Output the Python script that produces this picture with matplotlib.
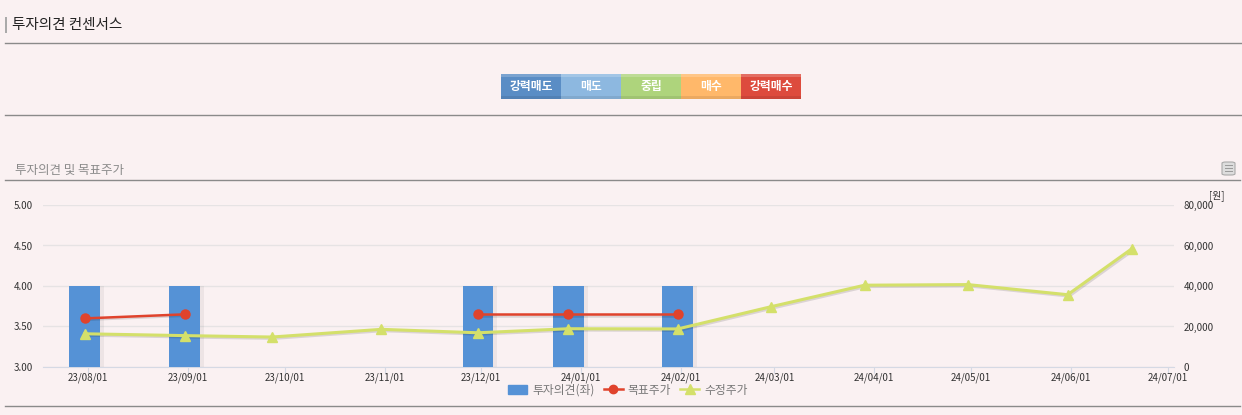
import matplotlib
matplotlib.use("Agg")
import matplotlib.pyplot as plt
import matplotlib.dates as mdates
import matplotlib.patheffects as pe
from matplotlib.lines import Line2D
from matplotlib.patches import Rectangle, FancyBboxPatch
import pandas as pd

plt.rcParams['font.family'] = ['Noto Sans CJK KR', 'DejaVu Sans']

# opinion / target price data
op_dates = pd.to_datetime(['2023-07-31', '2023-08-31', '2023-11-30', '2023-12-28', '2024-01-31'])
opinion = [4.0, 4.0, 4.0, 4.0, 4.0]
target_dates = op_dates
target_price = [24000, 26000, 26000, 26000, 26000]

adj_dates = pd.to_datetime(['2023-07-31', '2023-08-31', '2023-09-27', '2023-10-31', '2023-11-30',
                            '2023-12-28', '2024-01-31', '2024-02-29', '2024-03-29', '2024-04-30',
                            '2024-05-31', '2024-06-20'])
adj_price = [16400, 15500, 14800, 18600, 16900, 18900, 18800, 29800, 40400, 40700, 35700, 58500]

tick_dates = pd.date_range('2023-08-01', '2024-07-01', freq='MS')
scale_labels = ['강력매도', '매도', '중립', '매수', '강력매수']
scale_colors = ['#5a8dc5', '#8db8e0', '#aed47c', '#ffb86a', '#dd4b3d']

W, H = 1242, 415
BG = '#faf1f2'
fig = plt.figure(figsize=(W / 100, H / 100), dpi=100, facecolor=BG)


def fx(x):
    return x / W


def fy(y):
    return 1 - y / H


def hline(y, x0=5, x1=1242, color='#8a8a8a', lw=1.0):
    fig.add_artist(Line2D([fx(x0), fx(x1)], [fy(y), fy(y)], color=color, lw=lw))


# header
fig.add_artist(Rectangle((fx(5), fy(33)), 2.5 / W, 16 / H, color='#aaaaaa', lw=0))
fig.text(fx(12), fy(25), '투자의견 컨센서스', fontsize=10.5, color='#222222', va='center')
hline(43)
hline(115)

# opinion scale bar
for i, (lab, col) in enumerate(zip(scale_labels, scale_colors)):
    x0 = 501 + i * 60
    fig.add_artist(Rectangle((fx(x0), fy(99)), 60 / W, 25 / H, color=col, lw=0))
    fig.add_artist(Rectangle((fx(x0), fy(77)), 60 / W, 3 / H, color='white', alpha=0.2, lw=0))
    fig.add_artist(Rectangle((fx(x0), fy(99)), 60 / W, 3 / H, color='black', alpha=0.08, lw=0))
    fig.text(fx(x0 + 30), fy(86.5), lab, fontsize=8.5, color='white', ha='center', va='center',
             fontweight='bold')

# sub header
fig.text(fx(15), fy(170), '투자의견 및 목표주가', fontsize=9, color='#8a8a8a', va='center')
hline(180, 5, 1240)
fig.add_artist(FancyBboxPatch((fx(1222), fy(175)), 13 / W, 13 / H,
                              boxstyle='round,pad=0,rounding_size=0.003',
                              fc='#dddddd', ec='#aaaaaa', lw=0.8))
for yy in (165, 168, 171):
    fig.add_artist(Line2D([fx(1225), fx(1232)], [fy(yy), fy(yy)], color='#999999', lw=0.7))
hline(406, 5, 1240)

# main chart
ax = fig.add_axes([fx(43), fy(367), (1174 - 43) / W, 162 / H])
ax.set_facecolor(BG)
ax.set_xlim(pd.Timestamp('2023-07-18'), pd.Timestamp('2024-07-03'))
ax.set_ylim(3.0, 5.0)
ax.set_yticks([3.0, 3.5, 4.0, 4.5, 5.0])
ax.set_yticklabels(['%.2f' % v for v in [3.0, 3.5, 4.0, 4.5, 5.0]])
ax.grid(axis='y', color='#e6e3e4', lw=1)
ax.set_axisbelow(True)
for s in ['top', 'right', 'left']:
    ax.spines[s].set_visible(False)
ax.spines['bottom'].set_color('#d5d9e4')
ax.tick_params(axis='y', length=0, pad=7, labelsize=7, labelcolor='#333333')
ax.set_xticks(tick_dates)
ax.xaxis.set_major_formatter(mdates.DateFormatter('%y/%m/%d'))
ax.tick_params(axis='x', length=4, color='#d5d9e4', pad=0, labelsize=7, labelcolor='#333333')

bw = 9.6
ax.bar(op_dates + pd.Timedelta(days=1.2), [v - 3.0 for v in opinion], bottom=3.0, width=bw,
       color='#000000', alpha=0.05, zorder=2)
ax.bar(op_dates, [v - 3.0 for v in opinion], bottom=3.0, width=bw,
       color='#5592d6', zorder=3, label='투자의견(좌)')

ax2 = ax.twinx()
ax2.set_ylim(0, 80000)
ax2.set_yticks([0, 20000, 40000, 60000, 80000])
ax2.set_yticklabels(['{:,}'.format(v) for v in [0, 20000, 40000, 60000, 80000]])
ax2.tick_params(axis='y', length=0, pad=7, labelsize=7, labelcolor='#333333')
for s in ax2.spines.values():
    s.set_visible(False)

shadow = [pe.SimpleLineShadow(offset=(1, -1), alpha=0.12), pe.Normal()]
ax2.plot(adj_dates, adj_price, color='#d4e06a', lw=2.2, zorder=4, path_effects=shadow)
ax2.plot(adj_dates, adj_price, color='#d4e06a', lw=0, marker='^', ms=7, zorder=4)
# target price in two runs (gap between Sep and Nov)
for sl in (slice(0, 2), slice(2, None)):
    ax2.plot(target_dates[sl], target_price[sl], color='#e0432c', lw=1.8, zorder=5,
             path_effects=shadow)
    ax2.plot(target_dates[sl], target_price[sl], color='#e0432c', lw=0, marker='o', ms=6.5,
             zorder=5)
fig.text(fx(1217), fy(196), '[원]', fontsize=7, color='#333333', ha='center', va='center')

handles = [Rectangle((0, 0), 1, 1, color='#5592d6'),
           Line2D([], [], color='#e0432c', lw=1.8, marker='o', ms=6),
           Line2D([], [], color='#d4e06a', lw=1.8, marker='^', ms=7)]
fig.legend(handles, ['투자의견(좌)', '목표주가', '수정주가'], loc='center',
           bbox_to_anchor=(fx(628), fy(390)), ncol=3, frameon=False, fontsize=8.5,
           labelcolor='#777777', handlelength=1.6, handletextpad=0.4, columnspacing=0.8)

fig.savefig('out.png', dpi=100, facecolor=BG)
